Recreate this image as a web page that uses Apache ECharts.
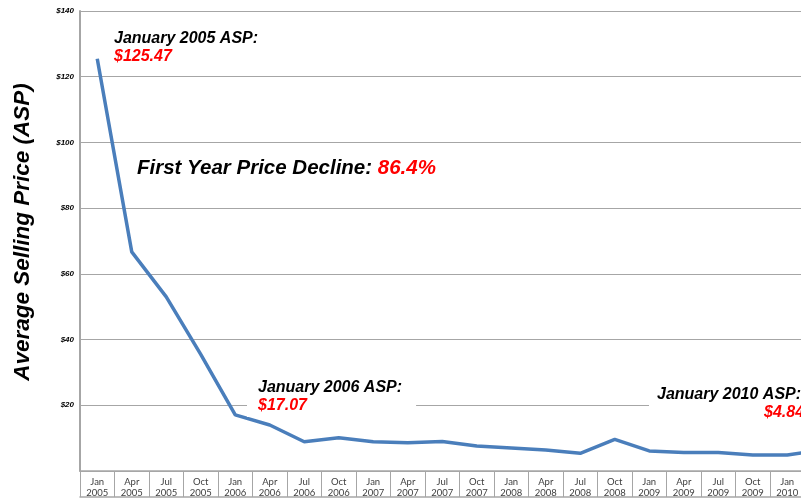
<!DOCTYPE html>
<html>
<head>
<meta charset="utf-8">
<script src="https://cdn.jsdelivr.net/npm/echarts@6/dist/echarts.min.js"></script>
<style>html,body{margin:0;padding:0;background:#fff;}#c{width:801px;height:500px;}</style>
</head>
<body>
<div id="c"></div>
<script>
const categories = ['Jan 2005','Apr 2005','Jul 2005','Oct 2005','Jan 2006','Apr 2006','Jul 2006','Oct 2006','Jan 2007','Apr 2007','Jul 2007','Oct 2007','Jan 2008','Apr 2008','Jul 2008','Oct 2008','Jan 2009','Apr 2009','Jul 2009','Oct 2009','Jan 2010','Apr 2010'];
const asp = [125.47, 66.7, 53.0, 35.5, 17.07, 14.0, 8.9, 10.1, 8.9, 8.6, 9.0, 7.6, 7.0, 6.4, 5.4, 9.6, 6.1, 5.6, 5.6, 4.85, 4.84, 6.4];
const yAxisTitle = 'Average Selling Price (ASP)';
const notes = {
  jan05: ['January 2005 ASP:', '$125.47'],
  decline: ['First Year Price Decline: ', '86.4%'],
  jan06: ['January 2006 ASP:', '$17.07'],
  jan10: ['January 2010 ASP:', '$4.84']
};

const FONT = '"Liberation Sans", Arial, sans-serif';
const baseStyle = {fontFamily: FONT, fontStyle: 'italic', fontWeight: 'bold'};
const richSmall = {
  a: Object.assign({}, baseStyle, {color: '#000', fontSize: 16, lineHeight: 18}),
  b: Object.assign({}, baseStyle, {color: '#ff0000', fontSize: 16, lineHeight: 18})
};
const richBig = {
  a: Object.assign({}, baseStyle, {color: '#000', fontSize: 20.5, lineHeight: 24}),
  b: Object.assign({}, baseStyle, {color: '#ff0000', fontSize: 20.5, lineHeight: 24})
};

const chart = echarts.init(document.getElementById('c'), null, {renderer: 'canvas'});
chart.setOption({
  animation: false,
  backgroundColor: '#fff',
  title: [
    {left: 114, top: 30, padding: 0, text: '{a|' + notes.jan05[0] + '}\n{b|' + notes.jan05[1] + '}', textStyle: {rich: richSmall}},
    {left: 137, top: 156, padding: 0, text: '{a|' + notes.decline[0] + '}{b|' + notes.decline[1] + '}', textStyle: {rich: richBig}},
    {left: 247, top: 377, padding: [2, 14, 3, 11], backgroundColor: '#fff', text: '{a|' + notes.jan06[0] + '}\n{b|' + notes.jan06[1] + '}', textStyle: {rich: richSmall}},
    {left: 649, top: 384, padding: [2, 40, 3, 8], backgroundColor: '#fff', text: '{a|' + notes.jan10[0] + '}', textStyle: {rich: richSmall}},
    {left: 764, top: 404, padding: 0, text: '{b|' + notes.jan10[1] + '}', textStyle: {rich: richSmall}}
  ],
  grid: {left: 80, top: 11, width: 759, height: 460, containLabel: false, outerBoundsMode: 'none'},
  xAxis: [{
    type: 'category',
    data: categories,
    boundaryGap: true,
    axisLine: {show: true, lineStyle: {color: '#a6a6a6', width: 1.5}},
    axisTick: {show: true, length: 26, interval: 0, lineStyle: {color: '#a6a6a6', width: 1}},
    axisLabel: {
      interval: 0, margin: 5, color: '#404040', fontSize: 9.5, lineHeight: 11,
      fontFamily: 'Lato, "Open Sans", sans-serif',
      formatter: v => v.replace(' ', '\n')
    },
    splitLine: {show: false}
  }, {
    type: 'category',
    data: categories,
    position: 'bottom',
    offset: 26,
    axisLine: {show: true, lineStyle: {color: '#a6a6a6', width: 1.5}},
    axisTick: {show: false},
    axisLabel: {show: false},
    splitLine: {show: false}
  }],
  yAxis: {
    type: 'value',
    min: 0, max: 140, interval: 20,
    name: yAxisTitle,
    nameLocation: 'middle',
    nameGap: 46,
    nameTextStyle: {fontFamily: FONT, fontStyle: 'italic', fontWeight: 'bold', fontSize: 22.5, color: '#000', padding: [0, 0, 0, 18]},
    axisLine: {show: true, lineStyle: {color: '#a6a6a6', width: 2}},
    axisTick: {show: false},
    splitLine: {show: true, lineStyle: {color: '#a6a6a6', width: 1}},
    axisLabel: {
      margin: 6, color: '#000', fontSize: 8, fontFamily: FONT, fontStyle: 'italic', fontWeight: 'bold',
      formatter: v => v === 0 ? '' : '$' + v
    }
  },
  series: [{
    type: 'line',
    data: asp,
    symbol: 'none',
    smooth: false,
    lineStyle: {color: '#4a7ebb', width: 3.5},
    z: 3
  }]
});
</script>
</body>
</html>
